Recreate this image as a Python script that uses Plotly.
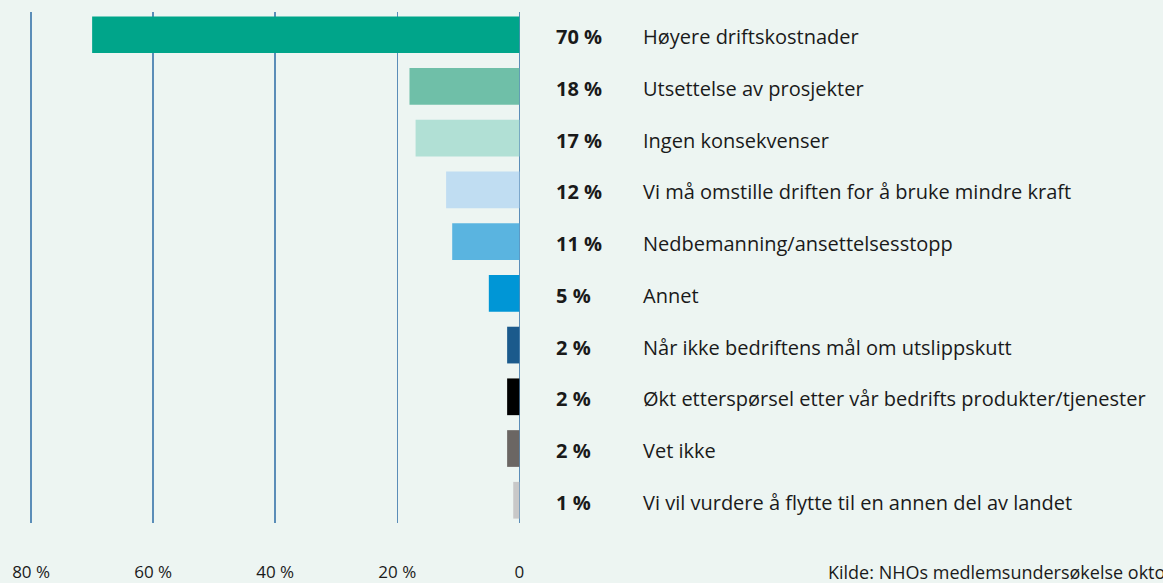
import plotly.graph_objects as go

categories = [
    "Høyere driftskostnader",
    "Utsettelse av prosjekter",
    "Ingen konsekvenser",
    "Vi må omstille driften for å bruke mindre kraft",
    "Nedbemanning/ansettelsesstopp",
    "Annet",
    "Når ikke bedriftens mål om utslippskutt",
    "Økt etterspørsel etter vår bedrifts produkter/tjenester",
    "Vet ikke",
    "Vi vil vurdere å flytte til en annen del av landet",
]
values = [70, 18, 17, 12, 11, 5, 2, 2, 2, 1]
colors = ["#00a58a", "#6fbfa8", "#b1e0d5", "#c0ddf2", "#5ab4e0",
          "#0096d6", "#1b5a8c", "#000000", "#6b6663", "#c8c8c8"]
tick_vals = [80, 60, 40, 20, 0]
tick_text = ["80 %", "60 %", "40 %", "20 %", "0"]
source = "Kilde: NHOs medlemsundersøkelse oktober 2022"

BG = "#edf5f2"
W, H = 1163, 583
PW = 498
ML, MT, MB = 25, 12, 60
MR = W - ML - PW
FONT = "Open Sans"

def px_to_paper(px):
    return (px - ML) / PW

fig = go.Figure()
fig.add_trace(go.Bar(
    x=values, y=categories, orientation="h",
    marker=dict(color=colors, line=dict(width=0)),
    width=0.71, hoverinfo="skip",
))

annotations = []
for cat, v in zip(categories, values):
    annotations.append(dict(
        x=px_to_paper(554), xref="paper", y=cat, yref="y", yshift=-2,
        text=f"<b>{v} %</b>", showarrow=False, xanchor="left",
        font=dict(family=FONT, size=20, color="#1a1a1a"),
    ))
    annotations.append(dict(
        x=px_to_paper(641), xref="paper", y=cat, yref="y", yshift=-2,
        text=cat, showarrow=False, xanchor="left",
        font=dict(family=FONT, size=20, color="#1a1a1a"),
    ))
annotations.append(dict(
    x=px_to_paper(826), xref="paper", y=0, yref="paper", yshift=-49,
    text=source, showarrow=False, xanchor="left", yanchor="middle",
    font=dict(family=FONT, size=18, color="#1a1a1a"),
))

fig.update_layout(
    width=W, height=H,
    margin=dict(l=ML, r=MR, t=MT, b=MB, pad=0, autoexpand=False),
    paper_bgcolor=BG, plot_bgcolor=BG,
    showlegend=False,
    annotations=annotations,
    xaxis=dict(
        range=[81, -0.6], tickvals=tick_vals, ticktext=tick_text,
        showgrid=True, gridcolor="#5b8db8", gridwidth=1.5,
        zeroline=False, showline=False, automargin=False,
        ticks="outside", ticklen=34, tickcolor=BG,
        tickfont=dict(family=FONT, size=17, color="#1a1a1a"),
        fixedrange=True,
    ),
    yaxis=dict(
        categoryorder="array", categoryarray=categories,
        autorange=False, range=[9.44, -0.44],
        showticklabels=False, showgrid=False, zeroline=False,
        fixedrange=True,
    ),
)

fig.write_html(
    "out.html",
    config={"displayModeBar": False, "staticPlot": True},
    post_script="document.body.style.margin='0';"
                "document.body.style.overflow='hidden';"
                "document.body.style.background='#edf5f2';",
)
